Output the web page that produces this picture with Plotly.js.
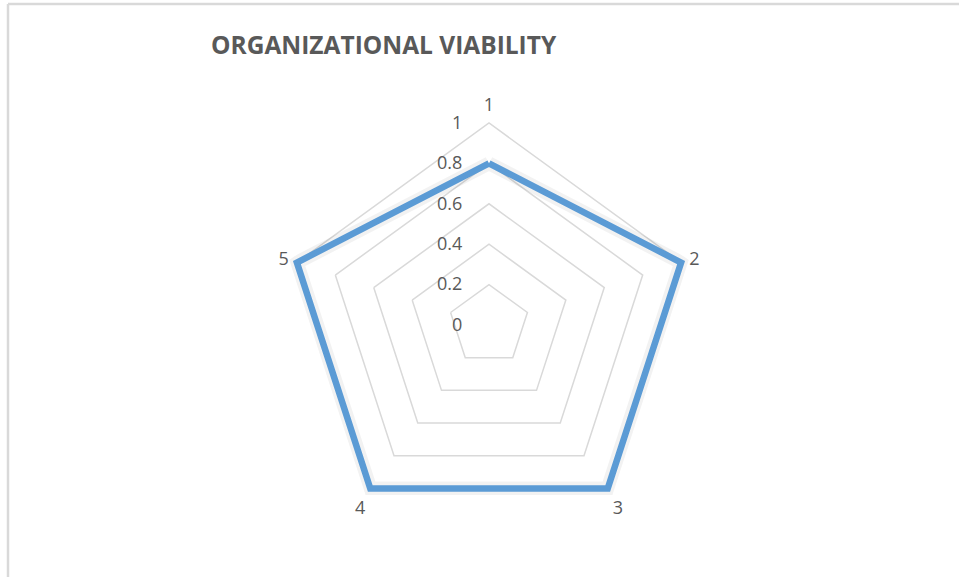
<!DOCTYPE html>
<html>
<head>
<meta charset="utf-8">
<script src="https://cdn.plot.ly/plotly-3.0.1.min.js"></script>
<style>
html,body{margin:0;padding:0;background:#fff;}
#chart{width:959px;height:577px;}
</style>
</head>
<body>
<div id="chart"></div>
<script>
const categories = ["1", "2", "3", "4", "5"];
const viability = [0.8, 1, 1, 1, 1];
const radialTicks = [0, 0.2, 0.4, 0.6, 0.8, 1];
const radialTickLabels = ["0", "0.2", "0.4", "0.6", "0.8", "1"];

const W = 959, H = 577;
const cx = 489, cy = 325, R1 = 202;   // pixel radius of value 1
const rMax = 1.04;                      // a little headroom so the thick line is not clipped
const R = R1 * rMax;

const closedTheta = categories.concat([categories[0]]);
const closedR = viability.concat([viability[0]]);

const traces = [
  {
    type: "scatterpolar",
    r: closedR,
    theta: closedTheta,
    mode: "lines",
    line: {color: "rgba(0,0,0,0.05)", width: 14},
    hoverinfo: "skip",
    showlegend: false
  },
  {
    type: "scatterpolar",
    r: closedR,
    theta: closedTheta,
    mode: "lines",
    line: {color: "#5B9BD5", width: 6.5},
    name: "Viability",
    showlegend: false
  }
];

const layout = {
  width: W,
  height: H,
  margin: {l: 0, r: 0, t: 0, b: 0},
  paper_bgcolor: "#ffffff",
  plot_bgcolor: "#ffffff",
  showlegend: false,
  title: {
    text: "ORGANIZATIONAL VIABILITY",
    font: {family: "Open Sans", size: 24.5, color: "#595959", weight: "bold"},
    x: 211 / W,
    xanchor: "left",
    xref: "paper",
    y: 1 - 45 / H,
    yanchor: "middle",
    yref: "paper"
  },
  polar: {
    domain: {
      x: [(cx - R) / W, (cx + R) / W],
      y: [(H - cy - R) / H, (H - cy + R) / H]
    },
    gridshape: "linear",
    bgcolor: "#ffffff",
    angularaxis: {
      type: "category",
      categoryarray: categories,
      rotation: 90,
      direction: "clockwise",
      showgrid: false,
      showline: false,
      ticks: "",
      tickfont: {family: "Open Sans", size: 18, color: "#595959"}
    },
    radialaxis: {
      range: [0, rMax],
      angle: 90,
      tickangle: 90,
      tickvals: radialTicks,
      ticktext: radialTickLabels,
      showline: false,
      ticks: "outside",
      ticklen: 20,
      tickcolor: "rgba(0,0,0,0)",
      gridcolor: "#D9D9D9",
      gridwidth: 1.5,
      side: "counterclockwise",
      tickfont: {family: "Open Sans", size: 18, color: "#595959"}
    }
  },
  shapes: [
    {type: "line", xref: "paper", yref: "paper", x0: 8 / W, x1: 1.01, y0: 1 - 4 / H, y1: 1 - 4 / H,
     line: {color: "#D9D9D9", width: 2.5}},
    {type: "line", xref: "paper", yref: "paper", x0: 8 / W, x1: 8 / W, y0: -0.01, y1: 1 - 4 / H,
     line: {color: "#D9D9D9", width: 2.5}}
  ]
};

Plotly.newPlot("chart", traces, layout, {displayModeBar: false, staticPlot: true});
</script>
</body>
</html>
